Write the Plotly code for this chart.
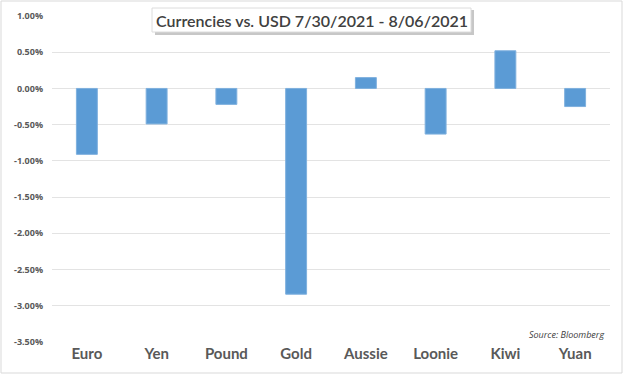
import plotly.graph_objects as go

categories = ["Euro", "Yen", "Pound", "Gold", "Aussie", "Loonie", "Kiwi", "Yuan"]
values = [-0.91, -0.49, -0.22, -2.84, 0.15, -0.63, 0.52, -0.25]
tick_vals = [1.0, 0.5, 0.0, -0.5, -1.0, -1.5, -2.0, -2.5, -3.0, -3.5]
tick_text = ["%.2f%%" % v for v in tick_vals]
title_text = "Currencies vs. USD 7/30/2021 - 8/06/2021"
source_text = "Source: Bloomberg"

W, H = 624, 375
ml, mr, mt, mb = 52, 14, 16, 33
pw, ph = W - ml - mr, H - mt - mb

def px(x):
    return (x - ml) / pw

def py(y):
    return (H - mb - y) / ph

fig = go.Figure(go.Bar(
    x=categories, y=values,
    marker=dict(color="#5B9BD5", line=dict(color="#7fb0de", width=1)),
    width=0.3,
))

fig.update_layout(
    width=W, height=H,
    margin=dict(l=ml, r=mr, t=mt, b=mb, autoexpand=False),
    paper_bgcolor="white", plot_bgcolor="white",
    showlegend=False,
    font=dict(family="Lato, Open Sans, sans-serif", color="#595959"),
    xaxis=dict(
        showgrid=False, showline=False, zeroline=False, ticks="",
        tickfont=dict(size=15, color="#595959", family="Lato, sans-serif", weight="bold"),
        ticklabelstandoff=1, automargin=False,
    ),
    yaxis=dict(
        range=[-3.5, 1.0], tickvals=tick_vals, ticktext=tick_text,
        showgrid=True, gridcolor="#e3e3e3", gridwidth=1,
        zeroline=False, showline=False, ticks="",
        tickfont=dict(size=9, color="#595959", family="Open Sans, sans-serif", weight="bold"),
        ticklabelstandoff=8, automargin=False,
    ),
)

shapes = [
    # outer border
    dict(type="rect", xref="paper", yref="paper",
         x0=px(1), x1=px(W - 2), y0=py(H - 2), y1=py(1),
         line=dict(color="#d9d9d9", width=1), fillcolor="rgba(0,0,0,0)", layer="below"),
    # title shadow
    dict(type="rect", xref="paper", yref="paper",
         x0=px(155), x1=px(474), y0=py(35), y1=py(10),
         line=dict(width=0), fillcolor="rgba(0,0,0,0.22)", layer="above"),
    dict(type="rect", xref="paper", yref="paper",
         x0=px(152), x1=px(471), y0=py(32), y1=py(8),
         line=dict(color="#dcdcdc", width=1), fillcolor="white", layer="above"),
]
fig.update_layout(shapes=shapes)

fig.add_annotation(
    text=title_text, xref="paper", yref="paper",
    x=px(312), y=py(20), xanchor="center", yanchor="middle",
    showarrow=False, font=dict(size=16, color="#404040", family="Lato, sans-serif", weight=600),
)
fig.add_annotation(
    text="<i>" + source_text + "</i>", xref="paper", yref="paper",
    x=px(606), y=py(334), xanchor="right", yanchor="middle",
    showarrow=False, font=dict(size=9, color="#404040", family="Open Sans, sans-serif"),
)

fig.write_html(
    "out.html",
    config={"displayModeBar": False},
    post_script="document.body.style.margin='0';document.body.style.padding='0';",
)
